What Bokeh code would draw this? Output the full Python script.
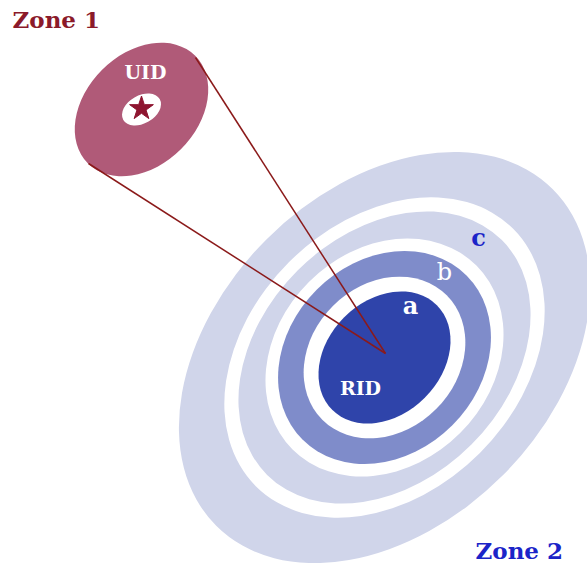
import math
from bokeh.plotting import figure
from bokeh.models import Range1d, ColumnDataSource
from bokeh.core.properties import value
from bokeh.embed import file_html
from bokeh.resources import INLINE

# ---- data (reference pixel coordinates) ----
zone2_center = (384, 357)
ring_names = ["outer c", "gap 1", "inner c", "gap 2", "b", "gap 3", "a"]
ring_semi_major = [238, 182, 166, 130, 116, 88, 74]
ring_semi_minor = [167, 135, 123, 107, 96, 73, 57]
ring_colors = ["#d0d5ea", "#ffffff", "#d0d5ea", "#ffffff", "#7f8cca", "#ffffff", "#2f44aa"]
tilt_deg = 45

zone1_center = (141, 109)
zone1_semi = (76, 56)
zone1_hole_semi = (21, 14)
zone1_hole_tilt = 30

link_x0 = [195, 88]
link_y0 = [57, 163]
link_x1 = [385, 385]
link_y1 = [353, 353]

labels = ["UID", "RID", "a", "b", "c"]
label_x = [145, 360, 410, 444, 478]
label_y = [71, 387, 305, 271, 237]
label_color = ["#ffffff", "#ffffff", "#ffffff", "#ffffff", "#1b24c8"]
label_size = ["19px", "19px", "24px", "24px", "24px"]
label_style = ["bold", "bold", "bold", "normal", "bold"]

titles = ["Zone 1", "Zone 2"]
title_x = [12, 475]
title_y = [19, 550]
title_color = ["#8b1a2a", "#1b24c8"]

# ---- figure ----
p = figure(width=587, height=563, x_range=Range1d(0, 587), y_range=Range1d(563, 0),
           output_backend="svg", toolbar_location=None, min_border=0)
p.axis.visible = False
p.grid.visible = False
p.outline_line_color = None
p.background_fill_color = "white"
p.border_fill_color = "white"

# Zone 2 rings
rings = ColumnDataSource(dict(
    x=[zone2_center[0]] * len(ring_names),
    y=[zone2_center[1]] * len(ring_names),
    w=[2 * a for a in ring_semi_major],
    h=[2 * b for b in ring_semi_minor],
    c=ring_colors,
))
p.ellipse(x="x", y="y", width="w", height="h", angle=math.radians(tilt_deg),
          fill_color="c", line_color=None, source=rings)

# Zone 1 ellipse
p.ellipse(x=[zone1_center[0]], y=[zone1_center[1]], width=[2 * zone1_semi[0]],
          height=[2 * zone1_semi[1]], angle=math.radians(tilt_deg),
          fill_color="#b05a78", line_color=None)
p.ellipse(x=[zone1_center[0]], y=[zone1_center[1]], width=[2 * zone1_hole_semi[0]],
          height=[2 * zone1_hole_semi[1]], angle=math.radians(zone1_hole_tilt),
          fill_color="#ffffff", line_color=None)
p.scatter(x=[zone1_center[0]], y=[zone1_center[1] - 1], marker="star", size=25,
          fill_color="#8e1530", line_color="#8e1530")

# links
p.segment(x0=link_x0, y0=link_y0, x1=link_x1, y1=link_y1,
          line_color="#8b1a1a", line_width=1.5)

# labels
for t, x, y, c, s, st in zip(labels, label_x, label_y, label_color, label_size, label_style):
    p.text(x=[x], y=[y], text=[t], text_color=c, text_font=value("DejaVu Serif"),
           text_font_size=s, text_font_style=st, text_align="center",
           text_baseline="middle")

for t, x, y, c in zip(titles, title_x, title_y, title_color):
    p.text(x=[x], y=[y], text=[t], text_color=c, text_font=value("DejaVu Serif"),
           text_font_size="23px", text_font_style="bold", text_align="left",
           text_baseline="middle")

open("out.html", "w").write(file_html(p, INLINE))
